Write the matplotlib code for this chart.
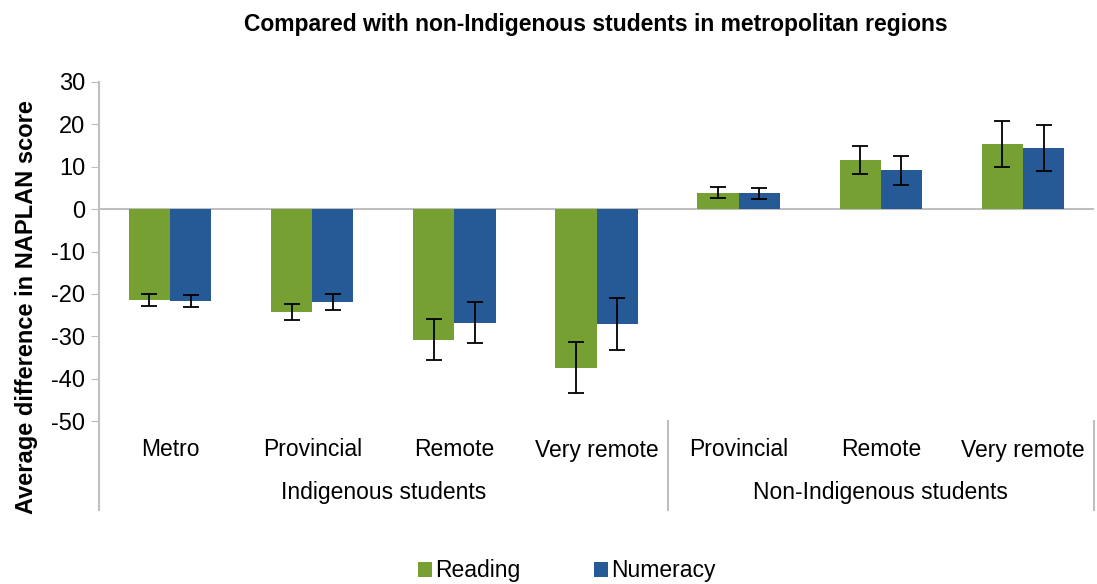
import numpy as np
import matplotlib.pyplot as plt
from matplotlib.lines import Line2D

plt.rcParams['font.family'] = ['Liberation Sans', 'DejaVu Sans']
plt.rcParams['axes.unicode_minus'] = False

categories = ['Metro', 'Provincial', 'Remote', 'Very remote',
              'Provincial', 'Remote', 'Very remote']
groups = ['Indigenous students', 'Non-Indigenous students']
group_sizes = [4, 3]

reading = [-21.5, -24.3, -30.8, -37.4, 3.9, 11.6, 15.3]
numeracy = [-21.6, -21.9, -26.8, -27.1, 3.8, 9.2, 14.4]
reading_err = [1.45, 1.95, 4.85, 6.1, 1.25, 3.4, 5.4]
numeracy_err = [1.4, 1.9, 4.8, 6.1, 1.3, 3.4, 5.4]

green = '#77a032'
blue = '#265a97'
grey = '#bfbfbf'

fig = plt.figure(figsize=(10.97, 5.84), dpi=100)
ax = fig.add_axes([99 / 1097, 1 - 421 / 584, 995 / 1097, 339 / 584])

x = np.arange(len(categories))
w = 0.29
ekw = dict(ecolor='black', elinewidth=1.3, capsize=5.5, capthick=1.3)
ax.bar(x - w / 2, reading, w, color=green, yerr=reading_err, error_kw=ekw, label='Reading')
ax.bar(x + w / 2, numeracy, w, color=blue, yerr=numeracy_err, error_kw=ekw, label='Numeracy')

ax.set_xlim(-0.5, len(categories) - 0.5)
ax.set_ylim(-50, 30)
ax.set_yticks(range(-50, 31, 10))
ax.tick_params(axis='y', length=6, color=grey, labelsize=17, pad=4)
ax.set_xticks([])
ax.axhline(0, color=grey, lw=1.5, zorder=0)
for s in ['top', 'right', 'bottom']:
    ax.spines[s].set_visible(False)
ax.spines['left'].set_color(grey)
ax.spines['left'].set_linewidth(1.5)
ax.spines['left'].set_bounds(-50, 30)

# category axis drawn below the plot area, in axes coordinates
tr = ax.get_xaxis_transform()
y_bottom = -(510 - 421) / 339
ax.add_line(Line2D([-0.5, -0.5], [0, y_bottom], transform=tr, color=grey, lw=1.5, clip_on=False))
for i, c in enumerate(categories):
    ax.text(i, -(450 - 421) / 339, c, transform=tr, ha='center', va='center', fontsize=16.5)
start = 0
for g, n in zip(groups, group_sizes):
    ax.text(start + (n - 1) / 2, -(493 - 421) / 339, g, transform=tr,
            ha='center', va='center', fontsize=16.5)
    end = start + n - 0.5
    ax.add_line(Line2D([end, end], [0, y_bottom], transform=tr, color=grey, lw=1.5, clip_on=False))
    start += n

fig.text(596 / 1097, 1 - 25 / 584, 'Compared with non-Indigenous students in metropolitan regions',
         ha='center', va='center', fontsize=16.5, fontweight='bold')
fig.text(27 / 1097, 1 - 307 / 584, 'Average difference in NAPLAN score', rotation=90,
         ha='center', va='center', fontsize=17, fontweight='bold')

fig.legend(loc='center', bbox_to_anchor=(567 / 1097, 1 - 571 / 584), ncol=2, frameon=False,
           fontsize=16.5, handlelength=0.6, handleheight=0.6, handletextpad=0.15,
           columnspacing=3.2, borderaxespad=0)

fig.savefig('out.png', dpi=100)
